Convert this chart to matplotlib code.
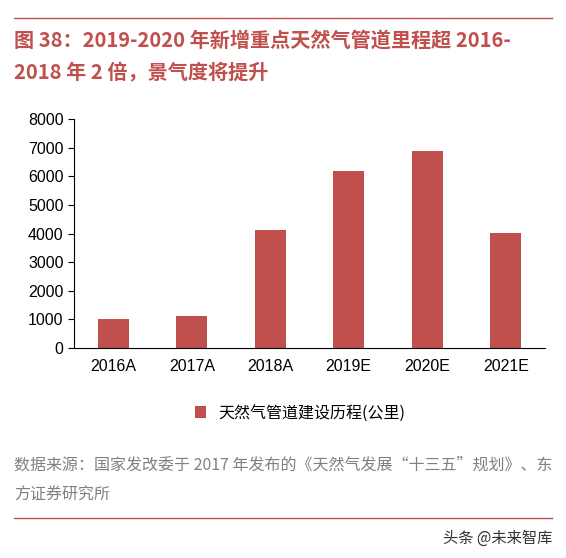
import matplotlib.pyplot as plt
from matplotlib.lines import Line2D

plt.rcParams['font.family'] = ['Noto Sans CJK SC', 'DejaVu Sans']

years = ['2016A', '2017A', '2018A', '2019E', '2020E', '2021E']
km = [1000, 1120, 4130, 6200, 6880, 4030]
yticks = [0, 1000, 2000, 3000, 4000, 5000, 6000, 7000, 8000]

RED = '#C0504D'
W, H = 566, 558
fig = plt.figure(figsize=(W / 100, H / 100), dpi=100)

# axes in pixel coords: left 72, right 545, top 119, bottom 348
ax = fig.add_axes([74 / W, 1 - 348 / H, (545 - 74) / W, (348 - 119) / H])
ax.bar(years, km, width=0.4, color=RED, label='天然气管道建设历程(公里)')
ax.set_ylim(0, 8000)
ax.set_yticks(yticks)
ax.set_xlim(-0.5, 5.5)
for s in ['top', 'right']:
    ax.spines[s].set_visible(False)
ax.tick_params(axis='both', labelsize=11.5, direction='out', length=4)
ax.tick_params(axis='x', length=0, pad=8)
for lab in ax.get_xticklabels() + ax.get_yticklabels():
    lab.set_family('Liberation Sans')

fig.legend(handles=ax.containers[0][:1], labels=['天然气管道建设历程(公里)'],
           loc='center', bbox_to_anchor=(300 / W, 1 - 413 / H), frameon=False,
           fontsize=11.5, handlelength=0.7, handleheight=0.7)

# title
fig.add_artist(Line2D([14 / W, 552 / W], [1 - 18 / H, 1 - 18 / H], color=RED, lw=1))
fig.text(14 / W, 1 - 40 / H, '图 38：2019-2020 年新增重点天然气管道里程超 2016-',
         color=RED, fontsize=14.5, fontweight='bold', va='center')
fig.text(14 / W, 1 - 73 / H, '2018 年 2 倍，景气度将提升',
         color=RED, fontsize=14.5, fontweight='bold', va='center')

# source
fig.text(14 / W, 1 - 465 / H, '数据来源：国家发改委于 2017 年发布的《天然气发展“十三五”规划》、东',
         color='#808080', fontsize=11.5, va='center')
fig.text(14 / W, 1 - 495 / H, '方证券研究所', color='#808080', fontsize=11.5, va='center')
fig.add_artist(Line2D([14 / W, 552 / W], [1 - 518 / H, 1 - 518 / H], color=RED, lw=1))
fig.text(552 / W, 1 - 538 / H, '头条 @未来智库', color='#333333', fontsize=11,
         va='center', ha='right')

fig.savefig('out.png', dpi=100)
